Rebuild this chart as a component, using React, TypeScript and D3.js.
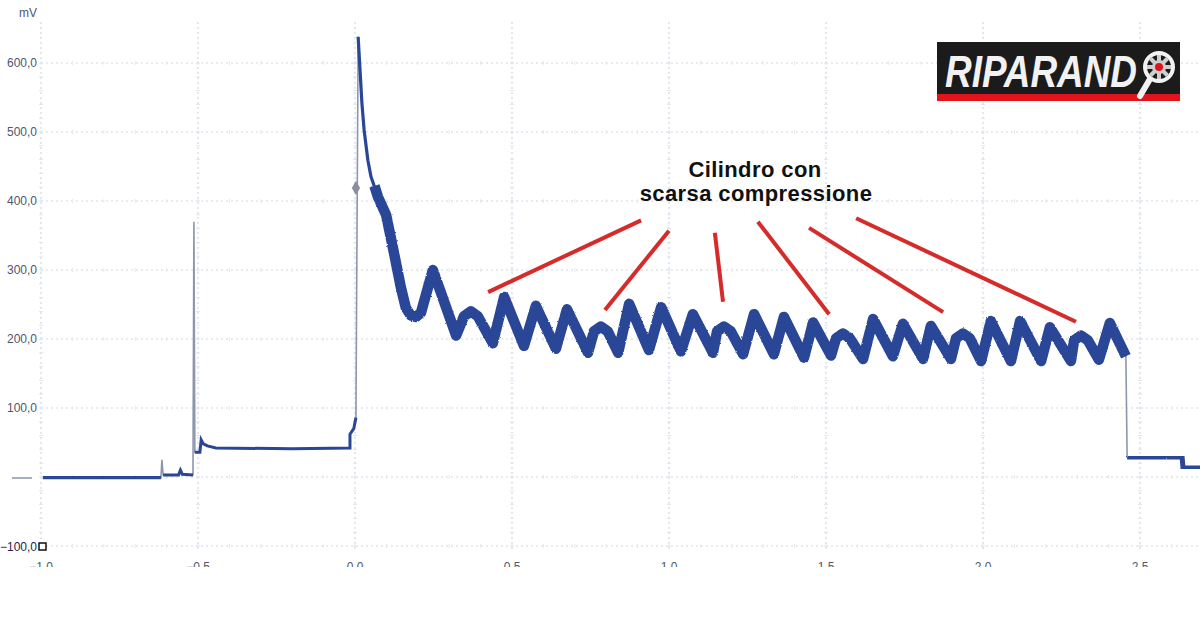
import React from 'react';
import * as d3 from 'd3';

type P = [number, number];

// axis ticks
const yTicks = [-100, 0, 100, 200, 300, 400, 500, 600];
const xTicks = [-1.0, -0.5, 0.0, 0.5, 1.0, 1.5, 2.0, 2.5];

// signal (time in s, value in mV)
const baselineTrace: P[] = [[-0.994, -1], [-0.618, -1]];
const smallSpike: P[] = [[-0.615, 25]];
const preStepTrace: P[] = [[-0.611, 3], [-0.562, 3], [-0.556, 10], [-0.550, 4], [-0.516, 3]];
const firstSpike: P[] = [[-0.513, 370]];
const plateauTrace: P[] = [[-0.510, 36], [-0.494, 36], [-0.490, 54], [-0.483, 48], [-0.470, 45], [-0.443, 42], [-0.200, 41], [-0.016, 42], [-0.016, 62], [-0.004, 70], [0.003, 86]];
const decayTrace: P[] = [[0.010, 638], [0.016, 590], [0.022, 542], [0.029, 503], [0.041, 459], [0.051, 435], [0.073, 406]];
const oscillationTrace: P[] = [
  [0.062, 422], [0.073, 406], [0.099, 380], [0.124, 325], [0.146, 275], [0.162, 245], [0.178, 234], [0.194, 232], [0.210, 238],
  [0.248, 300], [0.322, 205], [0.347, 233], [0.369, 240], [0.391, 233], [0.439, 194], [0.475, 261], [0.538, 190],
  [0.576, 248], [0.640, 186], [0.675, 243], [0.742, 180], [0.761, 211], [0.783, 218], [0.805, 211], [0.838, 180],
  [0.873, 251], [0.936, 184], [0.975, 246], [1.038, 182], [1.076, 236], [1.140, 180], [1.153, 211], [1.175, 218],
  [1.197, 211], [1.236, 178], [1.271, 236], [1.334, 178], [1.366, 232], [1.430, 173], [1.459, 224], [1.516, 176],
  [1.532, 201], [1.554, 208], [1.576, 201], [1.618, 171], [1.650, 229], [1.713, 175], [1.745, 222], [1.809, 171],
  [1.834, 219], [1.898, 171], [1.914, 201], [1.936, 208], [1.958, 201], [1.994, 168], [2.025, 226], [2.089, 168],
  [2.118, 226], [2.185, 168], [2.213, 217], [2.280, 168], [2.290, 198], [2.312, 205], [2.334, 198], [2.369, 170],
  [2.404, 223], [2.455, 175],
];
const tailTrace: P[] = [[2.459, 29], [2.634, 29], [2.637, 13], [2.72, 13]];
const cursorMarker: P = [0.003, 419];

// annotation
const noteLines = ['Cilindro con', 'scarsa compressione'];
const noteAnchors: P[] = [[1.274, 435], [1.277, 400]];
const pointerStarts: P[] = [[0.911, 372], [1.000, 357], [1.146, 354], [1.283, 370], [1.446, 361], [1.596, 375]];
const pointerEnds: P[] = [[0.424, 268], [0.796, 242], [1.172, 254], [1.510, 236], [1.873, 239], [2.296, 225]];

const BLUE = '#2a4797';
const GRID = '#d0d7e6';

export default function App() {
  const x = d3.scaleLinear().domain([-1, 2.5]).range([41, 1140]);
  const y = d3.scaleLinear().domain([-100, 600]).range([546, 63]);
  const line = d3.line<P>().x(d => x(d[0])).y(d => y(d[1]));

  const allPoints: P[] = [
    ...baselineTrace, ...smallSpike, ...preStepTrace, ...firstSpike, ...plateauTrace,
    ...decayTrace, ...oscillationTrace.slice(2), ...tailTrace,
  ];

  const fmtY = (v: number) => d3.format('.1f')(v).replace('.', ',');
  const fmtX = (v: number) => d3.format('.1f')(v);

  const minorY = d3.range(-100, 620, 20);
  const minorX = d3.range(-1, 2.75, 0.1);
  const plotTop = 22;
  const plotBottom = 552;

  return (
    <svg width={1200} height={630} style={{ position: 'absolute', left: 0, top: 0, background: '#fff' }}
      fontFamily="'Liberation Sans', Arial, sans-serif">
      <defs>
        <clipPath id="plotClip"><rect x={0} y={0} width={1200} height={567} /></clipPath>
        <filter id="rough" x="-5%" y="-5%" width="110%" height="110%">
          <feTurbulence type="fractalNoise" baseFrequency="1.2" numOctaves={2} seed={3} result="n" />
          <feDisplacementMap in="SourceGraphic" in2="n" scale={2} xChannelSelector="R" yChannelSelector="G" />
        </filter>
      </defs>
      <rect x={0} y={0} width={1200} height={630} fill="#fff" />

      {/* grid */}
      <g>
        {yTicks.map(t => (
          <line key={'gy' + t} x1={41} x2={1200} y1={y(t)} y2={y(t)} stroke={GRID} strokeWidth={1.2} strokeDasharray="2,3" />
        ))}
        {xTicks.map(t => (
          <line key={'gx' + t} x1={x(t)} x2={x(t)} y1={plotTop} y2={plotBottom} stroke={GRID} strokeWidth={1.2} strokeDasharray="2,3" />
        ))}
        {xTicks.map(t => minorY.map(v => (
          <line key={'mt' + t + '_' + v} x1={x(t) - 2} x2={x(t) + 2} y1={y(v)} y2={y(v)} stroke="#e0e5ef" strokeWidth={1} />
        )))}
        {yTicks.map(v => minorX.map(t => (
          <line key={'mx' + t + '_' + v} x1={x(t)} x2={x(t)} y1={y(v) - 2} y2={y(v) + 2} stroke="#e4e8f1" strokeWidth={1} />
        )))}
      </g>

      {/* y labels */}
      <text x={37} y={17} textAnchor="end" fontSize={12} fill="#4e5575">mV</text>
      {yTicks.filter(t => t !== 0 && t !== -100).map(t => (
        <text key={'yl' + t} x={37} y={y(t) + 4} textAnchor="end" fontSize={12} fill="#4e5575">{fmtY(t)}</text>
      ))}
      <line x1={12} x2={32} y1={y(0) + 1} y2={y(0) + 1} stroke="#8d94ad" strokeWidth={1.5} />
      <text x={37} y={y(-100) + 5} textAnchor="end" fontSize={12} fill="#1d2350">{fmtY(-100)}</text>
      <rect x={39} y={y(-100) - 3} width={7} height={7} fill="#fff" stroke="#111" strokeWidth={1.5} />

      {/* x labels, cut by image edge */}
      <g clipPath="url(#plotClip)">
        {xTicks.map(t => (
          <text key={'xl' + t} x={x(t)} y={571} textAnchor="middle" fontSize={12} fill="#50566e">{fmtX(t)}</text>
        ))}
      </g>

      {/* signal: thin grey trace (jumps), blue on top */}
      <path d={line(allPoints) || ''} fill="none" stroke="#8e96ad" strokeWidth={1.6} />
      <path d={line(baselineTrace) || ''} fill="none" stroke={BLUE} strokeWidth={3.2} />
      <path d={line(preStepTrace) || ''} fill="none" stroke={BLUE} strokeWidth={3} />
      <path d={line(plateauTrace) || ''} fill="none" stroke={BLUE} strokeWidth={3} />
      <path d={line(decayTrace) || ''} fill="none" stroke={BLUE} strokeWidth={3.2} strokeLinejoin="round" />
      <path d={line(oscillationTrace) || ''} fill="none" stroke={BLUE} strokeWidth={10.5} strokeLinejoin="round" strokeLinecap="butt" filter="url(#rough)" />
      <path d={line(tailTrace) || ''} fill="none" stroke={BLUE} strokeWidth={5} filter="url(#rough)" />

      {/* cursor marker */}
      <path d={d3.symbol().type(d3.symbolDiamond).size(60)() || ''} transform={`translate(${x(cursorMarker[0])},${y(cursorMarker[1])})`} fill="#8a8f9f" />

      {/* annotation */}
      {pointerStarts.map((s, i) => (
        <line key={'pl' + i} x1={x(s[0])} y1={y(s[1])} x2={x(pointerEnds[i][0])} y2={y(pointerEnds[i][1])}
          stroke="#d52b2b" strokeWidth={4} />
      ))}
      {noteLines.map((txt, i) => (
        <text key={'nt' + i} x={x(noteAnchors[i][0])} y={y(noteAnchors[i][1])} textAnchor="middle"
          fontSize={22} fontWeight="bold" fill="#111" letterSpacing={0.4}>{txt}</text>
      ))}

      {/* logo */}
      <g>
        <rect x={937} y={42} width={243} height={53} fill="#1b1b1b" />
        <rect x={937} y={94} width={243} height={7} fill="#e2131b" />
        <text x={945} y={87} fontSize={44} fontStyle="italic" fontWeight={900} fill="#f2f2f2"
          textLength={192} lengthAdjust="spacingAndGlyphs">RIPARAND</text>
        <line x1={1150} y1={79} x2={1140} y2={96} stroke="#f2f2f2" strokeWidth={6} strokeLinecap="round" />
        <circle cx={1159} cy={67} r={14} fill="#1b1b1b" stroke="#f2f2f2" strokeWidth={4} />
        {d3.range(8).map(i => (
          <rect key={'gt' + i} x={1157} y={55} width={4} height={6} fill="#cfcfcf"
            transform={`rotate(${i * 45} 1159 67)`} />
        ))}
        <circle cx={1159} cy={67} r={7} fill="#cfcfcf" />
        <circle cx={1159} cy={67} r={4} fill="#e2131b" />
      </g>
    </svg>
  );
}
